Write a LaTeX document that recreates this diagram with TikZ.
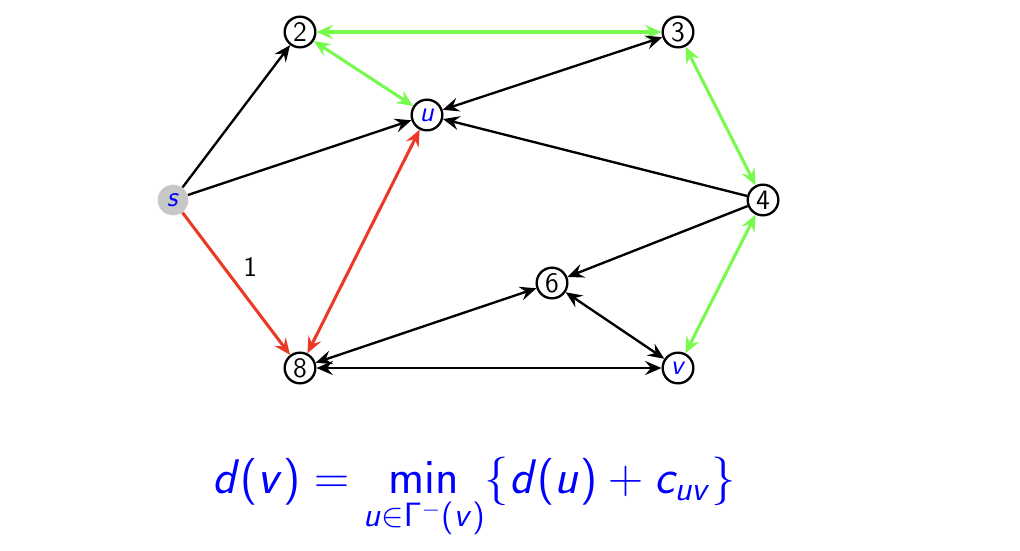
\documentclass[tikz,border=0pt]{standalone}
\usepackage{amsmath}
\usetikzlibrary{arrows.meta}
\definecolor{lgreen}{RGB}{118,250,76}
\definecolor{lred}{RGB}{234,58,38}
\DeclareMathAlphabet{\mathsfit}{OT1}{cmss}{m}{sl}
\newcommand\vname[1]{\textsf{\textit{#1}}}
\newcommand\sfi[1]{\mathsfit{#1}}
\newcommand\lpar{\mathopen{\textsf{(}}}
\newcommand\rpar{\mathclose{\textsf{)}}}
\begin{document}
\begin{tikzpicture}[x=0.015cm,y=-0.015cm,
  vertex/.style={circle,draw,line width=1pt,minimum size=0.46cm,inner sep=0pt,fill=white,font=\sffamily\large},
  source/.style={circle,fill=black!22,minimum size=0.46cm,inner sep=0pt,font=\sffamily\large},
  arc/.style={line width=1pt,-{Stealth[length=7pt,width=6pt,inset=2.5pt]}},
  biarc/.style={line width=1pt,{Stealth[length=7pt,width=6pt,inset=2.5pt]}-{Stealth[length=7pt,width=6pt,inset=2.5pt]}},
  greenarc/.style={draw=lgreen,line width=1.3pt},
  redarc/.style={draw=lred,line width=1.3pt}]
\useasboundingbox (0,0) rectangle (1020,550);

\node[source] (s) at (173,200) {\color{blue}\vname{s}};
\node[vertex] (n2) at (300,32) {2};
\node[vertex] (n3) at (678,32) {3};
\node[vertex] (u) at (427,115) {\color{blue}\vname{u}};
\node[vertex] (n4) at (763,200) {4};
\node[vertex] (n6) at (552,283) {6};
\node[vertex] (n8) at (300,368) {8};
\node[vertex] (v) at (678,368) {\color{blue}\vname{v}};

\draw[arc] (s) -- (n2);
\draw[arc] (s) -- (u);
\draw[arc,redarc] (s) -- node[above right=-1pt,font=\sffamily\large,text=black] {1} (n8);
\draw[biarc,redarc] (n8) -- (u);
\draw[biarc,greenarc] (n2) -- (n3);
\draw[biarc,greenarc] (n2) -- (u);
\draw[biarc] (u) -- (n3);
\draw[arc] (n4) -- (u);
\draw[biarc,greenarc] (n3) -- (n4);
\draw[arc] (n4) -- (n6);
\draw[biarc,greenarc] (n4) -- (v);
\draw[biarc] (n6) -- (v);
\draw[biarc] (n8) -- (n6);
\draw[biarc] (n8) -- (v);

\node[text=blue,font=\fontsize{20}{24}\selectfont] (bellman) at (474,498)
  {$\displaystyle \sfi{d}\lpar\sfi{v}\rpar = \mathop{\mathsf{min}}\limits_{\sfi{u}\in\mathsf{\Gamma}^-\lpar\sfi{v}\rpar}\{\sfi{d}\lpar\sfi{u}\rpar+\sfi{c}_{\sfi{uv}}\}$};
\end{tikzpicture}
\end{document}
